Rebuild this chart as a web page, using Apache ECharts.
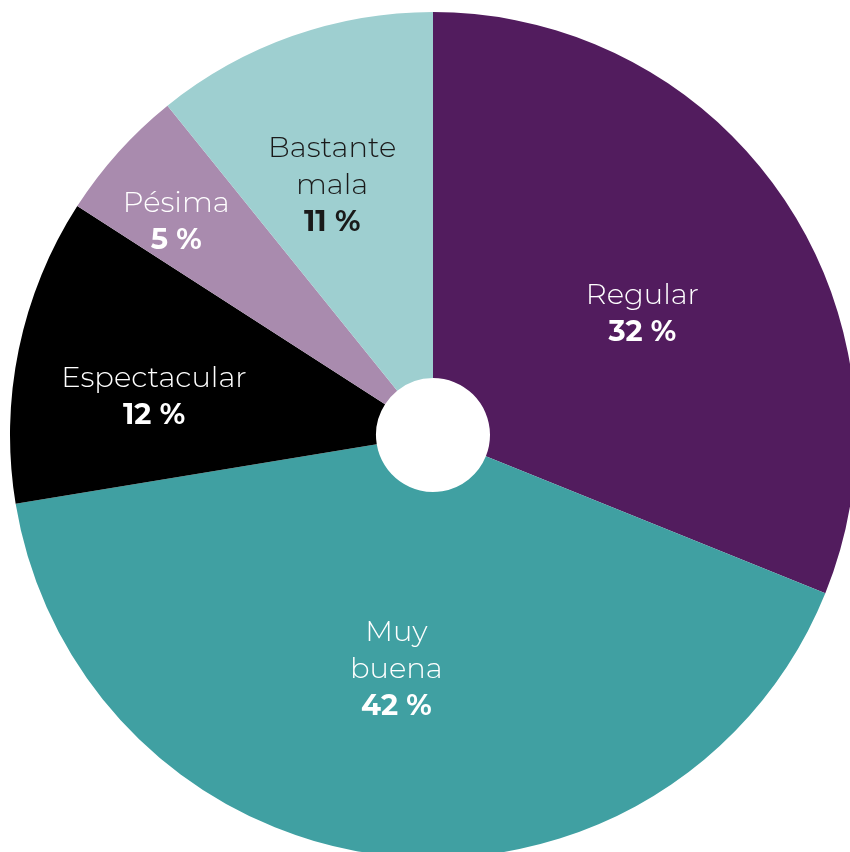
<!DOCTYPE html>
<html>
<head>
<meta charset="utf-8">
<script src="https://cdn.jsdelivr.net/npm/echarts@6/dist/echarts.min.js"></script>
<style>
html,body{margin:0;padding:0;background:#fff;}
#main{width:850px;height:852px;}
</style>
</head>
<body>
<div id="main"></div>
<script>
// categories, clockwise from the top
var names = ['Regular', 'Muy\nbuena', 'Espectacular', 'Pésima', 'Bastante\nmala'];
// slice sizes
var values = [31.1, 41.3, 11.7, 5.1, 10.8];
// percentages as printed on the slices
var labels = ['32 %', '42 %', '12 %', '5 %', '11 %'];

var colors = ['#521c5e', '#40a0a2', '#000000', '#a98bae', '#9ecfd0'];
var textColors = ['#ffffff', '#ffffff', '#ffffff', '#ffffff', '#1a1a1a'];
// small nudges of the label blocks, like the original layout
var labelOffsets = [[8, 15], [-10, -7], [-41, 11], [-76, -51], [-20, -20]];

var chart = echarts.init(document.getElementById('main'));

var data = [];
for (var i = 0; i < names.length; i++) {
	data.push({
		name: names[i],
		value: values[i],
		itemStyle: { color: colors[i] },
		label: {
			offset: labelOffsets[i],
			rich: {
				n: { color: textColors[i], fontSize: 29, fontWeight: 300, lineHeight: 37, fontFamily: 'Montserrat, Inter, sans-serif' },
				p: { color: textColors[i], fontSize: 29, fontWeight: 'bold', lineHeight: 37, fontFamily: 'Montserrat, Inter, sans-serif' }
			}
		}
	});
}

var option = {
	animation: false,
	series: [{
		type: 'pie',
		center: [433, 435],
		radius: [57, 423],
		startAngle: 90,
		clockwise: true,
		avoidLabelOverlap: false,
		label: {
			show: true,
			position: 'inside',
			formatter: function (params) {
				var parts = params.name.split('\n').map(function (s) { return '{n|' + s + '}'; });
				return parts.join('\n') + '\n{p|' + labels[params.dataIndex] + '}';
			}
		},
		labelLine: { show: false },
		emphasis: { disabled: true },
		data: data
	}]
};
chart.setOption(option);
</script>
</body>
</html>
